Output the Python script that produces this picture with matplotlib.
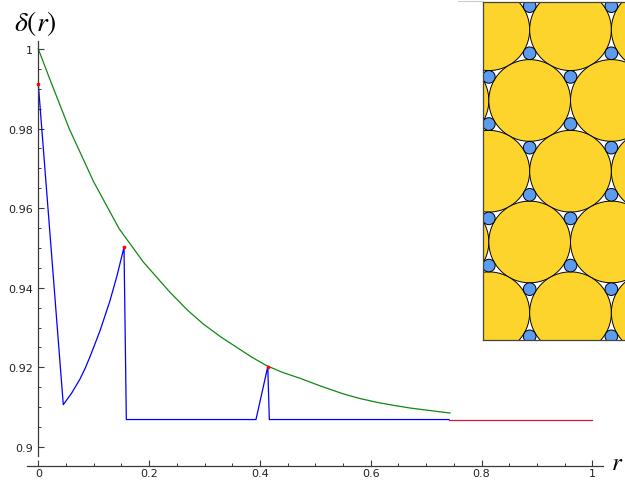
import numpy as np
import matplotlib
matplotlib.use('Agg')
from matplotlib import patches as patches, pyplot as plt
from matplotlib.lines import Line2D
from matplotlib.ticker import MultipleLocator

plt.rcParams['mathtext.fontset'] = 'stix'

# green curve (upper bound)
bound_r = [0.0, 0.02, 0.056, 0.1, 0.1462, 0.19, 0.2377, 0.27, 0.2978, 0.33, 0.3581,
           0.385, 0.4123, 0.44, 0.4724, 0.51, 0.5511, 0.58, 0.6111, 0.64, 0.6709,
           0.705, 0.7431]
bound_d = [1.0, 0.9927, 0.9799, 0.9666, 0.95477, 0.9464, 0.93887, 0.9343, 0.9309, 0.9276,
           0.92505, 0.9226, 0.92043, 0.9188, 0.91726, 0.9153, 0.91332, 0.9122, 0.91123,
           0.9105, 0.9098, 0.9092, 0.90854]

# blue curve (densest known packing), up to where the red tail takes over
dens_r = [0.0, 0.0451, 0.06, 0.0753, 0.085, 0.0933, 0.102, 0.1114, 0.12, 0.1294, 0.142,
          0.1547, 0.1589, 0.3929, 0.4142, 0.4170, 0.7413]
dens_d = [0.9912, 0.91063, 0.9135, 0.91709, 0.9199, 0.92269, 0.9258, 0.92922, 0.9328,
          0.93676, 0.9430, 0.95018, 0.9069, 0.9069, 0.92018, 0.9069, 0.9069]

# red part of the tail
tail_r = [0.7413, 1.0]
tail_d = [0.9069, 0.9069]

# red points
mark_r = [0.0, 0.1547, 0.4142]
mark_d = [0.9912, 0.9502, 0.9202]

xticks = [0, 0.2, 0.4, 0.6, 0.8, 1]
xtick_labels = ['0', '0.2', '0.4', '0.6', '0.8', '1']
yticks = [0.9, 0.92, 0.94, 0.96, 0.98, 1.0]
ytick_labels = ['0.9', '0.92', '0.94', '0.96', '0.98', '1']

# inset: hexagonal packing, small/big radius ratio
ratio = 2 / np.sqrt(3) - 1

W, H = 625, 481
fig = plt.figure(figsize=(W / 100, H / 100), dpi=100)

ax = fig.add_axes([27 / W, (H - 467) / H, (603 - 27) / W, (467 - 42) / H])
ax.set_xlim(-0.0204, 1.0193)
ax.set_ylim(0.89523, 1.002)

ax.plot(bound_r, bound_d, color='#118811', lw=0.9)
ax.plot(dens_r, dens_d, color='#0000ff', lw=0.9)
ax.plot(tail_r, tail_d, color='#d8163c', lw=0.9)
ax.scatter(mark_r, mark_d, s=7, color='red', zorder=5, clip_on=False, linewidths=0)

axis_col = '#3a3a3a'
for s in ['top', 'right']:
    ax.spines[s].set_visible(False)
ax.spines['left'].set_position(('data', 0))
ax.spines['left'].set_bounds(0.89774, 1.002)
for s in ['left', 'bottom']:
    ax.spines[s].set_color(axis_col)
    ax.spines[s].set_linewidth(0.9)

ax.set_xticks(xticks)
ax.set_xticklabels(xtick_labels)
ax.set_yticks(yticks)
ax.set_yticklabels(ytick_labels)
ax.xaxis.set_minor_locator(MultipleLocator(0.05))
ax.yaxis.set_minor_locator(MultipleLocator(0.005))
ax.tick_params(which='major', direction='in', length=4.5, width=0.8, color=axis_col,
               labelsize=8, labelcolor='#222222', pad=4)
ax.tick_params(axis='x', which='major', pad=1.5)
ax.tick_params(which='minor', direction='in', length=2.5, width=0.7, color=axis_col)
ax.set_facecolor('none')

fig.text(14 / W, 1 - 31 / H, r'$\delta(r)$', fontsize=20, va='baseline', ha='left')
fig.text(611 / W, 1 - 470 / H, r'$r$', fontsize=18, va='baseline', ha='left')

# faint line at the top left of the inset
fig.add_artist(Line2D([458 / W, 483 / W], [1 - 2 / H, 1 - 2 / H], color='#cccccc', lw=0.8))

# inset with the packing picture
px = 40.85  # pixels per big radius
ax_in = fig.add_axes([483.3 / W, (H - 341) / H, 160 / W, (341 - 3.3) / H])
ax_in.set_xlim(0, 160 / px)
ax_in.set_ylim((341 - 3.3) / px, 0)
ax_in.set_xticks([])
ax_in.set_yticks([])
for s in ax_in.spines.values():
    s.set_color('#444444')
    s.set_linewidth(0.9)

x0, y0 = 0.135, 0.671
centers = []
for j in range(-1, 6):
    for i in range(-1, 3):
        centers.append((x0 + 2 * i + (j % 2), y0 + np.sqrt(3) * j))

smalls = set()
for cx, cy in centers:
    for k in range(6):
        a = np.radians(30 + 60 * k)
        d = 1 + ratio
        smalls.add((round(cx + d * np.cos(a), 3), round(cy + d * np.sin(a), 3)))

for cx, cy in centers:
    ax_in.add_patch(patches.Circle((cx, cy), 1, fc='#fdd42b', ec='black', lw=0.7))
for cx, cy in smalls:
    ax_in.add_patch(patches.Circle((cx, cy), ratio, fc='#5c9cf0', ec='black', lw=0.7))

fig.savefig('out.png', dpi=100)
